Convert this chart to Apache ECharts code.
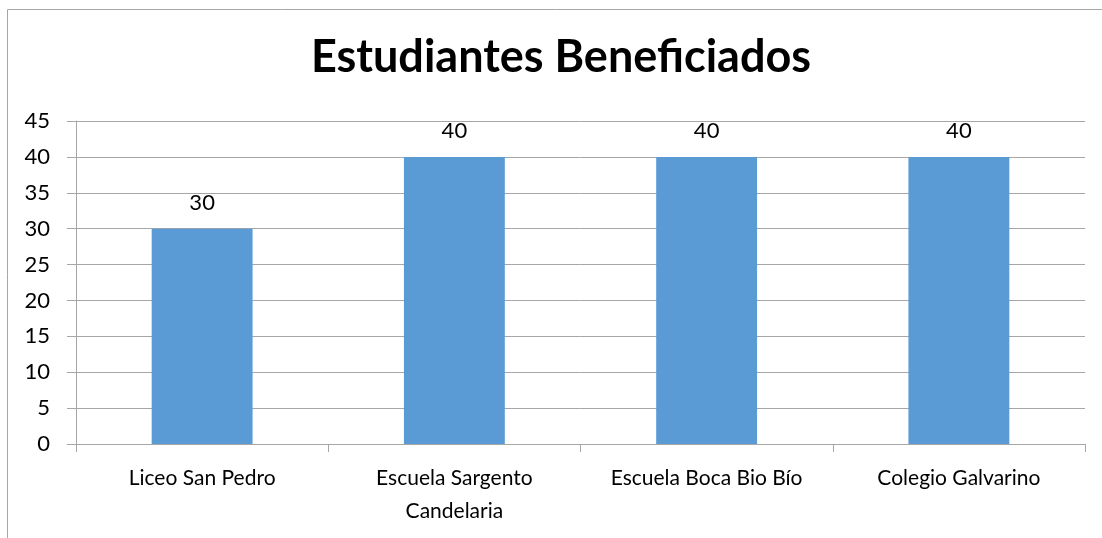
<!DOCTYPE html>
<html>
<head>
<meta charset="utf-8">
<script src="https://cdn.jsdelivr.net/npm/echarts@6/dist/echarts.min.js"></script>
<style>
  html, body { margin: 0; padding: 0; background: #fff; }
  #chart { width: 1102px; height: 538px; }
</style>
</head>
<body>
<div id="chart"></div>
<script>
var categories = ['Liceo San Pedro', 'Escuela Sargento\nCandelaria', 'Escuela Boca Bio Bío', 'Colegio Galvarino'];
var values = [30, 40, 40, 40];

var chart = echarts.init(document.getElementById('chart'));
var font = 'Lato, "Open Sans", sans-serif';

var option = {
  animation: false,
  // chart-area border: only left and top edges fall inside the picture
  graphic: [{
    type: 'polyline',
    shape: { points: [[7.5, 600], [7.5, 9.5], [1300, 9.5]] },
    style: { fill: 'none', stroke: '#a6a6a6', lineWidth: 1 }
  }],
  title: {
    text: 'Estudiantes Beneficiados',
    left: 556,
    top: 30,
    textAlign: 'center',
    textStyle: { fontFamily: font, fontWeight: 'bold', fontSize: 45, color: '#000' }
  },
  grid: { left: 76, right: 17, top: 121, bottom: 94, containLabel: false },
  xAxis: {
    type: 'category',
    data: categories,
    axisLine: { lineStyle: { color: '#a6a6a6' } },
    axisTick: { show: true, length: 8, lineStyle: { color: '#a6a6a6' } },
    axisLabel: { fontFamily: font, fontSize: 21, color: '#000', margin: 18, lineHeight: 33 }
  },
  yAxis: {
    type: 'value',
    min: 0,
    max: 45,
    interval: 5,
    axisLine: { show: true, lineStyle: { color: '#a6a6a6' } },
    axisTick: { show: true, length: 9, lineStyle: { color: '#a6a6a6' } },
    splitLine: { lineStyle: { color: '#a6a6a6' } },
    axisLabel: { fontFamily: font, fontSize: 22, color: '#000', margin: 26 }
  },
  series: [{
    type: 'bar',
    data: values,
    barWidth: '40%',
    itemStyle: { color: '#5b9bd5' },
    label: { show: true, position: 'top', distance: 15, fontFamily: font, fontSize: 22, color: '#000' }
  }]
};
chart.setOption(option);
</script>
</body>
</html>
